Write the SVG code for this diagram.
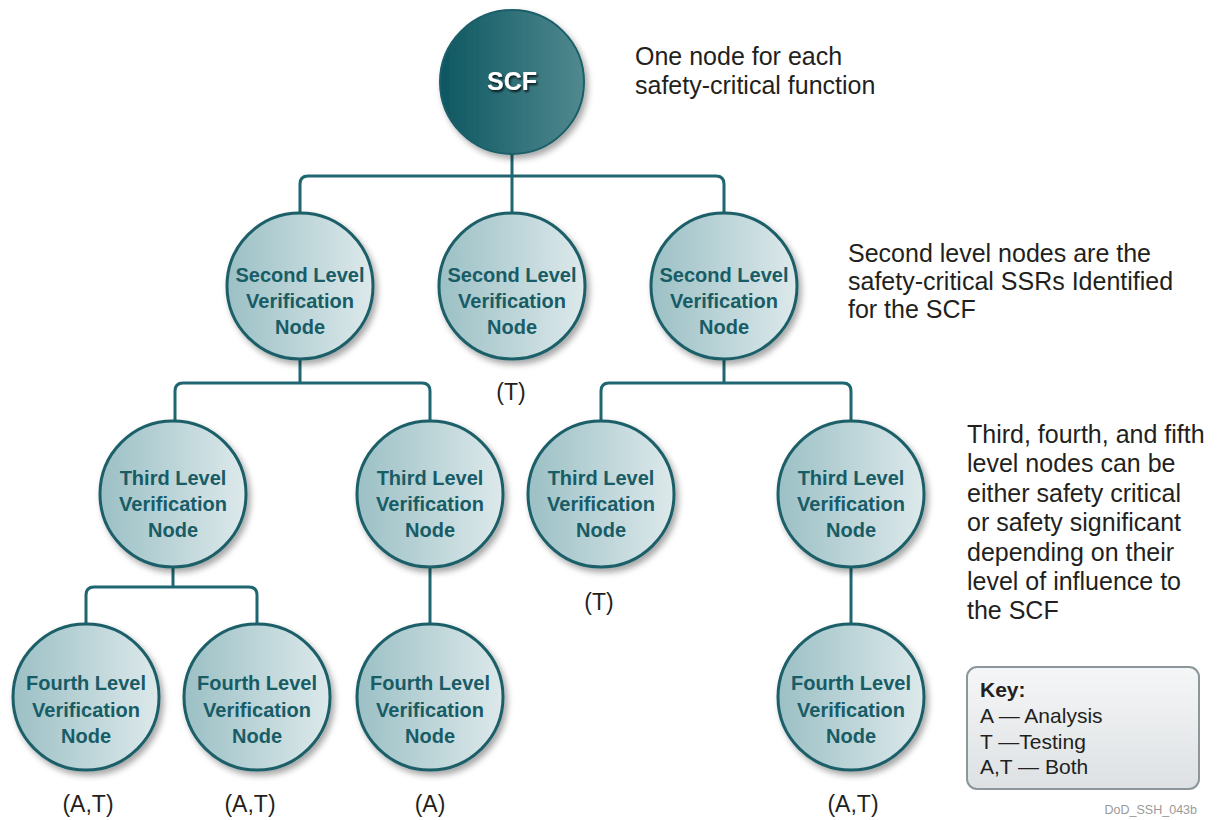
<svg xmlns="http://www.w3.org/2000/svg" width="1220" height="820" viewBox="0 0 1220 820">
<defs>
<linearGradient id="gNode" x1="0" y1="0" x2="1" y2="0">
<stop offset="0" stop-color="#9bc0c5"/>
<stop offset="1" stop-color="#dde9eb"/>
</linearGradient>
<linearGradient id="gScf" x1="0" y1="0" x2="1" y2="0">
<stop offset="0" stop-color="#0d5761"/>
<stop offset="1" stop-color="#51898f"/>
</linearGradient>
<linearGradient id="gKey" x1="0" y1="0" x2="0" y2="1">
<stop offset="0" stop-color="#f5f6f7"/>
<stop offset="1" stop-color="#dde1e3"/>
</linearGradient>
<filter id="shadow" x="-20%" y="-20%" width="150%" height="150%">
<feDropShadow dx="3" dy="4" stdDeviation="3" flood-color="#000" flood-opacity="0.35"/>
</filter>
<filter id="tshadow" x="-20%" y="-20%" width="150%" height="150%">
<feDropShadow dx="1.5" dy="2" stdDeviation="0.8" flood-color="#000" flood-opacity="0.8"/>
</filter>
</defs>
<style>
.node{fill:url(#gNode);stroke:#1b5f68;stroke-width:3;filter:url(#shadow)}
.scf{fill:url(#gScf);stroke:#1b5f68;stroke-width:2;filter:url(#shadow)}
.nt{font-family:"Liberation Sans",Arial,sans-serif;font-weight:bold;font-size:20px;fill:#185c66;text-anchor:middle}
.lbl{font-family:"Liberation Sans",Arial,sans-serif;font-size:23px;fill:#231f20;text-anchor:middle}
.note{font-family:"Liberation Sans",Arial,sans-serif;font-size:25px;fill:#231f20}
.key{font-family:"Liberation Sans",Arial,sans-serif;font-size:21px;fill:#231f20}
.conn{fill:none;stroke:#1f6670;stroke-width:3}
</style>
<rect width="1220" height="820" fill="#ffffff"/>

<g id="connectors">
<path class="conn" d="M512 154 V213"/>
<path class="conn" d="M300 213 V184 Q300 176 308 176 H716 Q724 176 724 184 V213"/>
<path class="conn" d="M300 358 V383"/>
<path class="conn" d="M175 421 V391 Q175 383 183 383 H422 Q430 383 430 391 V421"/>
<path class="conn" d="M724 358 V383"/>
<path class="conn" d="M601 421 V391 Q601 383 609 383 H843 Q851 383 851 391 V421"/>
<path class="conn" d="M173 566 V587"/>
<path class="conn" d="M86 624 V595 Q86 587 94 587 H249 Q257 587 257 595 V624"/>
<path class="conn" d="M430 566 V624"/>
<path class="conn" d="M851 566 V624"/>
</g>

<g id="scf">
<circle class="scf" cx="512" cy="82" r="72"/>
<text x="512" y="90" text-anchor="middle" font-family="'Liberation Sans',Arial,sans-serif" font-weight="bold" font-size="25" fill="#ffffff" filter="url(#tshadow)">SCF</text>
</g>

<g id="l2a">
<circle class="node" cx="300" cy="286" r="73"/>
<text class="nt" x="300" y="282">Second Level</text>
<text class="nt" x="300" y="308">Verification</text>
<text class="nt" x="300" y="334">Node</text>
</g>
<g id="l2b">
<circle class="node" cx="512" cy="286" r="73"/>
<text class="nt" x="512" y="282">Second Level</text>
<text class="nt" x="512" y="308">Verification</text>
<text class="nt" x="512" y="334">Node</text>
<text class="lbl" x="511" y="400">(T)</text>
</g>
<g id="l2c">
<circle class="node" cx="724" cy="286" r="73"/>
<text class="nt" x="724" y="282">Second Level</text>
<text class="nt" x="724" y="308">Verification</text>
<text class="nt" x="724" y="334">Node</text>
</g>

<g id="l3a">
<circle class="node" cx="173" cy="494" r="73"/>
<text class="nt" x="173" y="485">Third Level</text>
<text class="nt" x="173" y="511">Verification</text>
<text class="nt" x="173" y="537">Node</text>
</g>
<g id="l3b">
<circle class="node" cx="430" cy="494" r="73"/>
<text class="nt" x="430" y="485">Third Level</text>
<text class="nt" x="430" y="511">Verification</text>
<text class="nt" x="430" y="537">Node</text>
</g>
<g id="l3c">
<circle class="node" cx="601" cy="494" r="73"/>
<text class="nt" x="601" y="485">Third Level</text>
<text class="nt" x="601" y="511">Verification</text>
<text class="nt" x="601" y="537">Node</text>
<text class="lbl" x="599" y="610">(T)</text>
</g>
<g id="l3d">
<circle class="node" cx="851" cy="494" r="73"/>
<text class="nt" x="851" y="485">Third Level</text>
<text class="nt" x="851" y="511">Verification</text>
<text class="nt" x="851" y="537">Node</text>
</g>

<g id="l4a">
<circle class="node" cx="86" cy="697" r="73"/>
<text class="nt" x="86" y="690">Fourth Level</text>
<text class="nt" x="86" y="717">Verification</text>
<text class="nt" x="86" y="743">Node</text>
<text class="lbl" x="88" y="812">(A,T)</text>
</g>
<g id="l4b">
<circle class="node" cx="257" cy="697" r="73"/>
<text class="nt" x="257" y="690">Fourth Level</text>
<text class="nt" x="257" y="717">Verification</text>
<text class="nt" x="257" y="743">Node</text>
<text class="lbl" x="250" y="812">(A,T)</text>
</g>
<g id="l4c">
<circle class="node" cx="430" cy="697" r="73"/>
<text class="nt" x="430" y="690">Fourth Level</text>
<text class="nt" x="430" y="717">Verification</text>
<text class="nt" x="430" y="743">Node</text>
<text class="lbl" x="430" y="812">(A)</text>
</g>
<g id="l4d">
<circle class="node" cx="851" cy="697" r="73"/>
<text class="nt" x="851" y="690">Fourth Level</text>
<text class="nt" x="851" y="717">Verification</text>
<text class="nt" x="851" y="743">Node</text>
<text class="lbl" x="853" y="812">(A,T)</text>
</g>

<g id="notes">
<text class="note" x="635" y="65" font-size="24.5">One node for each</text>
<text class="note" x="635" y="94" font-size="24.5">safety-critical function</text>
<text class="note" x="848" y="262">Second level nodes are the</text>
<text class="note" x="848" y="290">safety-critical SSRs Identified</text>
<text class="note" x="848" y="318">for the SCF</text>
<text class="note" x="967" y="443" font-size="25.5">Third, fourth, and fifth</text>
<text class="note" x="967" y="472" font-size="25.5">level nodes can be</text>
<text class="note" x="967" y="502" font-size="25.5">either safety critical</text>
<text class="note" x="967" y="531" font-size="25.5">or safety significant</text>
<text class="note" x="967" y="561" font-size="25.5">depending on their</text>
<text class="note" x="967" y="590" font-size="25.5">level of influence to</text>
<text class="note" x="967" y="619" font-size="25.5">the SCF</text>
</g>

<g id="keybox">
<rect x="967" y="667" width="232" height="122" rx="10" fill="url(#gKey)" stroke="#8c969b" stroke-width="2"/>
<text class="key" x="980" y="697" font-weight="bold">Key:</text>
<text class="key" x="980" y="723">A — Analysis</text>
<text class="key" x="980" y="749">T —Testing</text>
<text class="key" x="980" y="774">A,T — Both</text>
</g>

<text x="1197" y="814" text-anchor="end" font-family="'Liberation Sans',Arial,sans-serif" font-size="12.5" fill="#9a9a9a">DoD_SSH_043b</text>
</svg>
